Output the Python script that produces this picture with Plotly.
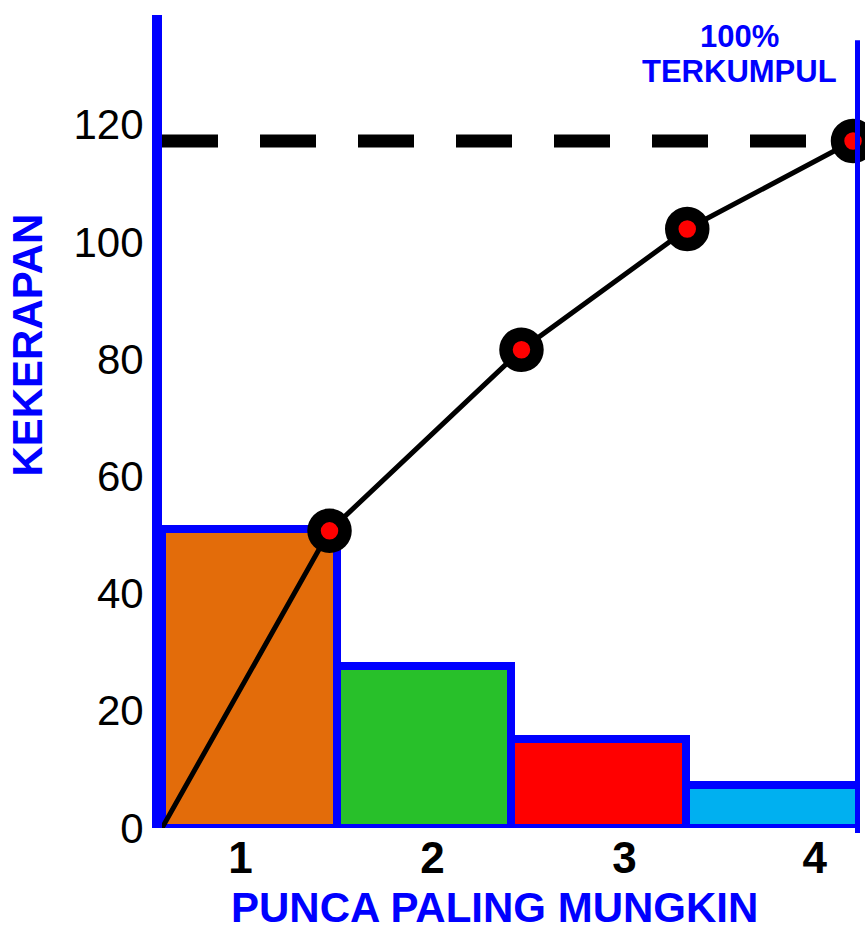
import plotly.graph_objects as go

# --- data ---
causes = ["1", "2", "3", "4"]
tick_positions = [0.45, 1.55, 2.65, 3.74]
frequency = [51, 27.7, 15.1, 7.3]
cumulative_x = [0, 0.96, 2.06, 3.01, 3.96]
cumulative = [0, 50.7, 81.6, 102.2, 117.2]
bar_colors = ["#E36C0A", "#28C02A", "#FF0000", "#00B0F0"]
y_ticks = [0, 20, 40, 60, 80, 100, 120]

BLUE = "#0000FF"
FONT = "Liberation Sans, Arial, sans-serif"

bar_x = [i + 0.5 for i in range(len(frequency))]

fig = go.Figure()
fig.add_trace(go.Bar(
    x=bar_x,
    y=frequency,
    width=1,
    marker={"color": bar_colors, "line": {"color": BLUE, "width": 8}},
    showlegend=False,
))
fig.add_trace(go.Scatter(
    x=cumulative_x,
    y=cumulative,
    mode="lines",
    line={"color": "black", "width": 5},
    showlegend=False,
))

# dashed 100% line and right-hand blue border
fig.add_shape(type="line", xref="x", yref="y", x0=0, x1=cumulative_x[-1],
              y0=cumulative[-1], y1=cumulative[-1],
              line={"color": "black", "width": 13, "dash": "56px,42px"}, layer="below")
fig.add_shape(type="line", xref="x", yref="paper", x0=4, x1=4, y0=-0.006, y1=0.969,
              line={"color": BLUE, "width": 10})

fig.add_trace(go.Scatter(
    x=cumulative_x[1:],
    y=cumulative[1:],
    mode="markers",
    marker={"color": "#FF0000", "size": 31, "line": {"color": "black", "width": 13.5}},
    showlegend=False,
    cliponaxis=False,
))

fig.update_layout(
    width=865,
    height=934,
    margin={"l": 162, "r": 5, "t": 15, "b": 106},
    plot_bgcolor="white",
    paper_bgcolor="white",
    bargap=0,
    font={"family": FONT, "color": "black"},
    xaxis={
        "range": [0, 4],
        "showgrid": False,
        "zeroline": False,
        "showline": False,
        "tickvals": tick_positions,
        "ticktext": causes,
        "tickfont": {"size": 44, "weight": "bold", "color": "black"},
        "ticks": "",
    },
    yaxis={
        "range": [0, 138.7],
        "showgrid": False,
        "zeroline": False,
        "showline": True,
        "linecolor": BLUE,
        "linewidth": 10,
        "tickvals": y_ticks,
        "tickfont": {"size": 42, "color": "black"},
        "ticks": "",
    },
    annotations=[
        dict(text="KEKERAPAN", xref="paper", yref="paper", x=-0.1927, y=0.594,
             textangle=-90, showarrow=False, xanchor="center", yanchor="middle",
             font={"size": 42, "color": BLUE, "weight": "bold"}),
        dict(text="PUNCA PALING MUNGKIN", xref="paper", yref="paper", x=0.477, y=-0.1295,
             showarrow=False, xanchor="center", yanchor="bottom",
             font={"size": 42, "color": BLUE, "weight": "bold"}),
        dict(text="100%", xref="paper", yref="paper", x=0.828, y=0.974,
             showarrow=False, xanchor="center", yanchor="middle",
             font={"size": 31, "color": BLUE, "weight": "bold"}),
        dict(text="TERKUMPUL", xref="paper", yref="paper", x=0.828, y=0.930,
             showarrow=False, xanchor="center", yanchor="middle",
             font={"size": 31, "color": BLUE, "weight": "bold"}),
    ],
)

fig.write_html(
    "out.html",
    config={"displayModeBar": False},
    post_script="document.body.style.margin='0';",
)
